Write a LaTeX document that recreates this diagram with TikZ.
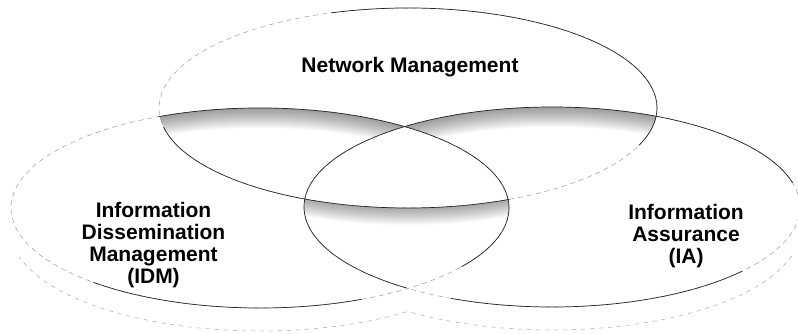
\documentclass[tikz,border=0pt]{standalone}
\usepackage{fontspec}
\setmainfont{Liberation Sans}
\begin{document}
\begin{tikzpicture}[x=1pt,y=-1pt,
  edge/.style={line width=0.7pt, black!85},
  faint/.style={line width=0.5pt, black!40, dash pattern=on 5pt off 4pt},
  shadowline/.style={line width=0.5pt, black!35, dash pattern=on 4pt off 5pt},
  band/.style={black, opacity=0.025, even odd rule},
  lbl/.style={font=\fontsize{21}{22}\selectfont\bfseries, align=center, inner sep=0pt}]
\useasboundingbox (0,0) rectangle (798,333);
\coordinate (T) at (408,108);
\coordinate (L) at (260,208);
\coordinate (R) at (552,207);
% shading band under left ellipse top edge
\begin{scope}
  \clip (T) ellipse (249 and 100);
  \clip (-10,-10) -- (-10,345) -- (552,345) -- (552,307) arc (90:270:248 and 100) -- (552,-10) -- cycle;
  \foreach \k in {1,...,20} \fill[band] (L) ellipse (249 and 100) (260,208+\k) ellipse (249 and 100);
\end{scope}
% shading band under right ellipse top edge
\begin{scope}
  \clip (T) ellipse (249 and 100);
  \clip (810,-10) -- (810,345) -- (260,345) -- (260,308) arc (90:-90:249 and 100) -- (260,-10) -- cycle;
  \foreach \k in {1,...,20} \fill[band] (R) ellipse (248 and 100) (552,207+\k) ellipse (248 and 100);
\end{scope}
% shading band under top ellipse bottom edge
\begin{scope}
  \clip (L) ellipse (249 and 100);
  \clip (R) ellipse (248 and 100);
  \foreach \k in {1,...,17} \fill[band] (T) ellipse (249 and 100) (408,108+\k) ellipse (249 and 100);
\end{scope}
% faint full outlines
\draw[faint] (T) ellipse (249 and 100);
\draw[faint] (L) ellipse (249 and 100);
\draw[faint] (R) ellipse (248 and 100);
% solid portions
\draw[edge] (T) ++(66:249 and 100) arc (66:169:249 and 100);
\draw[edge] (T) ++(252:249 and 100) arc (252:382:249 and 100);
\draw[edge] (L) ++(246:249 and 100) arc (246:396:249 and 100);
\draw[edge] (L) ++(66:249 and 100) arc (66:132:249 and 100);
\draw[edge] (R) ++(126:248 and 100) arc (126:346:248 and 100);
\draw[edge] (R) ++(40:248 and 100) arc (40:114:248 and 100);
% lower rims
\coordinate (Ls) at (260,231);
\coordinate (Rs) at (552,230);
\draw[shadowline] (Ls) ++(54:249 and 100) arc (54:165:249 and 100);
\draw[shadowline] (Rs) ++(15:248 and 100) arc (15:126:248 and 100);
% labels
\node[lbl, anchor=base] (nm) at (410,72) {Network Management};
\node[lbl, anchor=north] (idm) at (153.5,202) {Information\\Dissemination\\Management\\(IDM)};
\node[lbl, anchor=north] (ia) at (686,204) {Information\\Assurance\\(IA)};
\end{tikzpicture}
\end{document}
